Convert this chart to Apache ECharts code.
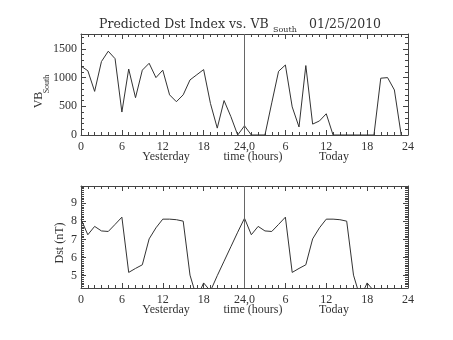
<!DOCTYPE html>
<html><head><meta charset="utf-8">
<script src="https://cdn.jsdelivr.net/npm/echarts@6/dist/echarts.min.js"></script>
<style>html,body{margin:0;padding:0;background:#fff}#c{width:453px;height:340px}</style>
</head><body><div id="c"></div>
<script>
// Hours 0..47 spanning yesterday (0-23) and today (24-47)
const vbSouth = [1200,1120,760,1280,1460,1330,400,1150,650,1130,1250,1000,1130,700,580,700,960,1050,1140,550,120,600,320,0,
                 160,0,0,0,560,1110,1220,490,140,1210,190,245,370,0,0,0,0,0,0,0,990,1000,785,0];
const dst = [8.12,7.26,7.72,7.47,7.44,7.83,8.23,5.18,5.40,5.60,7.03,7.64,8.12,8.12,8.09,8.01,5.03,3.77,4.60,4.15,5.00,5.80,6.60,7.40,
             8.17,7.26,7.72,7.47,7.44,7.83,8.23,5.18,5.40,5.60,7.03,7.64,8.12,8.12,8.09,8.01,5.03,3.77,4.60,4.15];
const xTicks = [0,6,12,18,24,30,36,42,48];
const xTickLabels = ['0','6','12','18','24,0','6','12','18','24'];
const dayLabels = ['Yesterday','time (hours)','Today'];

const FONT = 'Liberation Serif';
const TFONT = 'DejaVu Serif';
const TXT = '#333';
const AX = '#444';
const chart = echarts.init(document.getElementById('c'), null, {renderer:'canvas'});

function xFmt(v){ const i = xTicks.indexOf(v); return i >= 0 ? xTickLabels[i] : ''; }

function xAx(grid, pos, labels){
  return {type:'value', gridIndex:grid, position:pos, min:0, max:48, interval:6,
    axisLine:{show:true, onZero:false, lineStyle:{color:AX, width:1}},
    axisTick:{show:true, inside:true, length:5, lineStyle:{color:AX}},
    minorTick:{show:true, splitNumber:6, length:3, lineStyle:{color:AX}},
    splitLine:{show:false},
    axisLabel:{show:labels, formatter:xFmt, color:TXT, fontFamily:FONT, fontSize:12, margin:6,
      showMinLabel:true, showMaxLabel:true}};
}
function yAx(grid, pos, labels, opts){
  return Object.assign({type:'value', gridIndex:grid, position:pos,
    axisLine:{show:true, onZero:false, lineStyle:{color:AX, width:1}},
    axisTick:{show:true, inside:true, length:5, lineStyle:{color:AX}},
    minorTick:{show:true, splitNumber:opts.minor, length:3, lineStyle:{color:AX}},
    splitLine:{show:false},
    axisLabel:{show:labels, color:TXT, fontFamily:FONT, fontSize:12, margin:4,
      formatter:(v)=>String(v),
      showMinLabel:opts.showMin, showMaxLabel:false}}, opts.scale);
}

const vLine = {silent:true, symbol:'none', label:{show:false},
  lineStyle:{color:'#666', width:1, type:'solid'}, data:[{xAxis:24}]};

const option = {
  animation:false,
  backgroundColor:'#fff',
  grid:[
    {left:81, top:34, width:327, height:101, show:false},
    {left:81, top:186, width:327, height:102, show:false}
  ],
  xAxis:[ xAx(0,'bottom',true), xAx(0,'top',false), xAx(1,'bottom',true), xAx(1,'top',false) ],
  yAxis:[
    yAx(0,'left',true,{minor:5, showMin:true, scale:{min:0, max:1760, interval:500}}),
    yAx(0,'right',false,{minor:5, showMin:true, scale:{min:0, max:1760, interval:500}}),
    yAx(1,'left',true,{minor:10, showMin:false, scale:{min:4.32, max:9.95, splitNumber:5}}),
    yAx(1,'right',false,{minor:10, showMin:false, scale:{min:4.32, max:9.95, splitNumber:5}})
  ],
  series:[
    {type:'line', xAxisIndex:0, yAxisIndex:0, data:vbSouth.map((v,i)=>[i,v]), symbol:'none',
      lineStyle:{color:'#333', width:1}, clip:true, markLine:vLine},
    {type:'line', xAxisIndex:2, yAxisIndex:2, data:dst.map((v,i)=>[i,v]), symbol:'none',
      lineStyle:{color:'#333', width:1}, clip:true, markLine:vLine}
  ],
  graphic:[
    {type:'text', x:99, y:25, style:{text:'Predicted Dst Index vs. VB', font:'12.5px "'+TFONT+'"', fill:TXT, align:'left', verticalAlign:'middle'}},
    {type:'text', x:273, y:30, style:{text:'South', font:'8px "'+TFONT+'"', fill:TXT, align:'left', verticalAlign:'middle'}},
    {type:'text', x:309, y:25, style:{text:'01/25/2010', font:'12.5px "'+TFONT+'"', fill:TXT, align:'left', verticalAlign:'middle'}},
    {type:'text', x:39, y:100, rotation:Math.PI/2, style:{text:'VB', font:'12px "'+FONT+'"', fill:TXT, align:'center', verticalAlign:'middle'}},
    {type:'text', x:47, y:84, rotation:Math.PI/2, style:{text:'South', font:'8px "'+FONT+'"', fill:TXT, align:'center', verticalAlign:'middle'}},
    {type:'text', x:60, y:243, rotation:Math.PI/2, style:{text:'Dst (nT)', font:'12px "'+FONT+'"', fill:TXT, align:'center', verticalAlign:'middle'}},
    {type:'text', x:166, y:157, style:{text:dayLabels[0], font:'12px "'+FONT+'"', fill:TXT, align:'center', verticalAlign:'middle'}},
    {type:'text', x:253, y:157, style:{text:dayLabels[1], font:'12px "'+FONT+'"', fill:TXT, align:'center', verticalAlign:'middle'}},
    {type:'text', x:334, y:157, style:{text:dayLabels[2], font:'12px "'+FONT+'"', fill:TXT, align:'center', verticalAlign:'middle'}},
    {type:'text', x:166, y:310, style:{text:dayLabels[0], font:'12px "'+FONT+'"', fill:TXT, align:'center', verticalAlign:'middle'}},
    {type:'text', x:253, y:310, style:{text:dayLabels[1], font:'12px "'+FONT+'"', fill:TXT, align:'center', verticalAlign:'middle'}},
    {type:'text', x:334, y:310, style:{text:dayLabels[2], font:'12px "'+FONT+'"', fill:TXT, align:'center', verticalAlign:'middle'}}
  ]
};
chart.setOption(option);
</script></body></html>
